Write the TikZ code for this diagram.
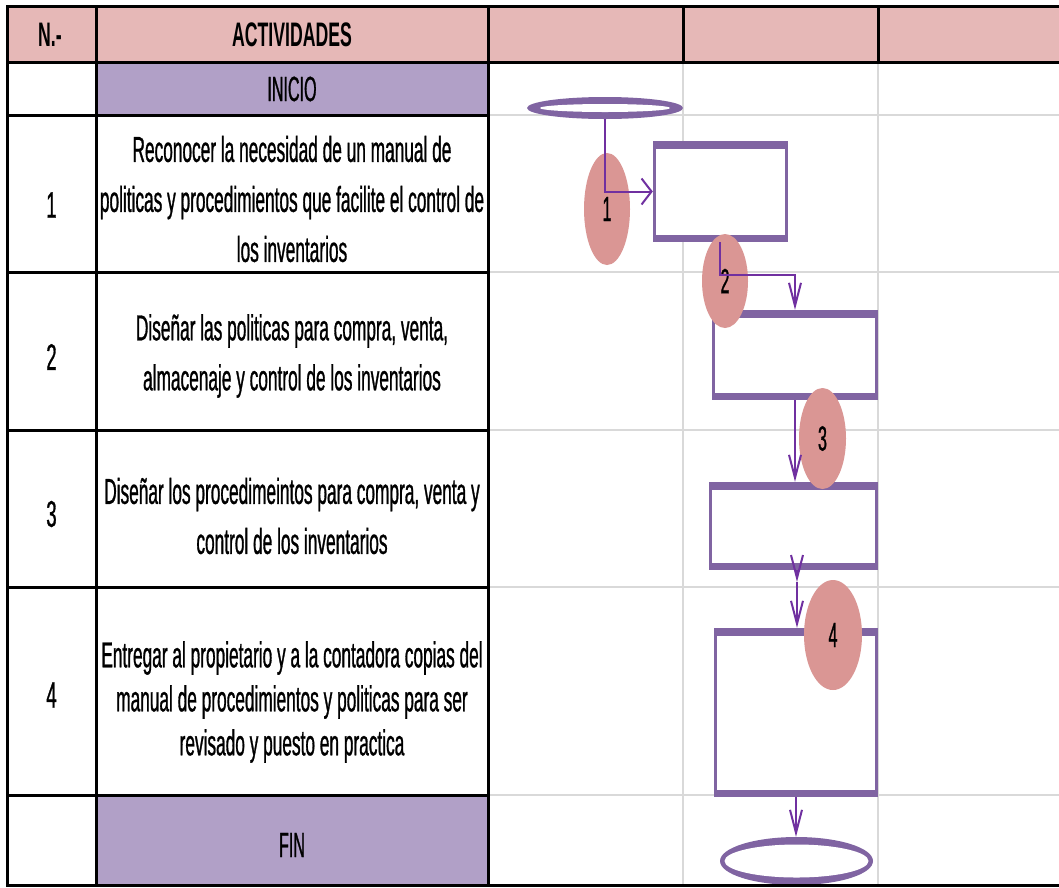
\documentclass[tikz,border=0pt]{standalone}
\usepackage{fontspec}
\usetikzlibrary{shapes.geometric,arrows.meta}
\newfontfamily\bodyf[FakeStretch=0.48,FakeBold=0.8]{Liberation Sans}
\newfontfamily\numf[FakeStretch=0.5,FakeBold=0.8]{Liberation Sans}
\newfontfamily\headf[FakeStretch=0.52]{Liberation Sans}
\newfontfamily\termf[FakeStretch=0.46,FakeBold=0.8]{Liberation Sans}
\definecolor{hdrpink}{HTML}{E6B8B7}
\definecolor{termpurple}{HTML}{B1A0C7}
\definecolor{shp}{HTML}{8064A2}
\definecolor{tagpink}{HTML}{DA9694}
\definecolor{arrowc}{HTML}{7030A0}
\definecolor{gridc}{HTML}{D9D9D9}
\begin{document}
\begin{tikzpicture}[x=1pt,y=-1pt,
  gridline/.style={draw=gridc, line width=2pt},
  tabline/.style={draw=black, line width=3pt, line cap=rect},
  celltext/.style={align=center, inner sep=0pt, font=\bodyf\fontsize{36}{50}\selectfont},
  numtext/.style={inner sep=0pt, font=\numf\fontsize{37}{40}\selectfont},
  hdrtext/.style={inner sep=0pt, font=\headf\bfseries\fontsize{34}{38}\selectfont},
  termtext/.style={inner sep=0pt, font=\termf\fontsize{35}{38}\selectfont},
  procbox/.style={rectangle, fill=shp, inner sep=0pt,
    path picture={\fill[white] ([xshift=3pt,yshift=-7.5pt]path picture bounding box.north west) rectangle ([xshift=-3pt,yshift=7.5pt]path picture bounding box.south east);}},
  termshape/.style n args={2}{ellipse, fill=shp, inner sep=0pt,
    path picture={\fill[white] (path picture bounding box.center) ellipse [x radius=#1, y radius=#2];}},
  tag/.style={ellipse, fill=tagpink, inner sep=0pt, font=\termf\fontsize{35}{38}\selectfont},
  arr/.style={draw=arrowc, line width=2pt},
  harr/.style={-{Straight Barb[length=10pt,width=26pt]}},
  varr/.style={-{Straight Barb[length=23pt,width=12pt]}}
]
\useasboundingbox (0,0) rectangle (1059,887);
\fill[white] (0,0) rectangle (1059,887);
% fills
\fill[hdrpink] (7,6) rectangle (1059,62);
\fill[termpurple] (96,62) rectangle (488,115);
\fill[termpurple] (96,795) rectangle (488,885);
% grey grid of the right area
\foreach \yy in {115,272,430,587,795} \draw[gridline] (488,\yy) -- (1059,\yy);
\foreach \xx in {683,878} \draw[gridline] (\xx,62) -- (\xx,885);

% texts
\node[hdrtext] (hN) at (50,35) {N.-};
\node[hdrtext] (hA) at (292,35) {ACTIVIDADES};
\node[termtext] (tI) at (292,89) {INICIO};
\node[termtext] (tF) at (292,845) {FIN};
\node[numtext] (n1) at (51.5,205) {1};
\node[numtext] (n2) at (51.5,357) {2};
\node[numtext] (n3) at (51.5,514) {3};
\node[numtext] (n4) at (51.5,695) {4};
\node[celltext] (a1) at (292,199) {Reconocer la necesidad de un manual de\\politicas y procedimientos que facilite el control de\\los inventarios};
\node[celltext] (a2) at (292,356) {Diseñar las politicas para compra, venta,\\almacenaje y control de los inventarios};
\node[celltext] (a3) at (292,516) {Diseñar los procedimeintos para compra, venta y\\control de los inventarios};
\node[celltext, font=\bodyf\fontsize{36}{44}\selectfont] (a4) at (292,702) {Entregar al propietario y a la contadora copias del\\manual de procedimientos y politicas para ser\\revisado y puesto en practica};

% flowchart shapes
\node[termshape={65pt}{4pt}, minimum width=156pt, minimum height=22pt] (s) at (605,108) {};
\node[procbox, minimum width=135pt, minimum height=101pt] (r1) at (720.5,191.5) {};
\node[procbox, minimum width=166pt, minimum height=90pt] (r2) at (795,355) {};
\node[procbox, minimum width=169pt, minimum height=88pt] (r3) at (793.5,526) {};
\node[procbox, minimum width=164pt, minimum height=169pt] (r4) at (796,712.5) {};
\node[termshape={72pt}{16.5pt}, minimum width=153pt, minimum height=48pt] (e) at (796.5,861) {};

\node[tag, minimum width=46pt, minimum height=112pt] (g1) at (607,209) {1};
\node[tag, minimum width=46pt, minimum height=94pt] (g2) at (725,281) {\raisebox{-6pt}{2}};
\node[tag, minimum width=47pt, minimum height=101pt] (g3) at (822.5,438.5) {\raisebox{-3pt}{3}};
\node[tag, minimum width=58pt, minimum height=110pt] (g4) at (833,635) {4};

% connectors
\coordinate (k2) at (720,275);
\coordinate (m4) at (797,582);
\draw[arr, harr] (s.south) |- (r1.west);
\draw[arr, varr] (r1.south -| k2) -- (k2) -| (r2.north);
\draw[arr, varr] (r2.south) -- (r2.south |- r3.north);
\draw[arr, varr] (r3.south -| m4) -- (m4);
\draw[arr, varr] (m4) -- (m4 |- r4.north);
\draw[arr, varr] (r4.south) -- (r4.south |- e.north);

% black table lines
\draw[tabline] (7,6) -- (1059,6);
\draw[tabline] (7,62) -- (1059,62);
\draw[tabline] (7,885) -- (1059,885);
\foreach \yy in {115,272,430,587,795} \draw[tabline] (7,\yy) -- (488,\yy);
\foreach \xx in {7,96,488} \draw[tabline] (\xx,6) -- (\xx,885);
\draw[tabline] (683,6) -- (683,62);
\draw[tabline] (878,6) -- (878,62);
\end{tikzpicture}
\end{document}
